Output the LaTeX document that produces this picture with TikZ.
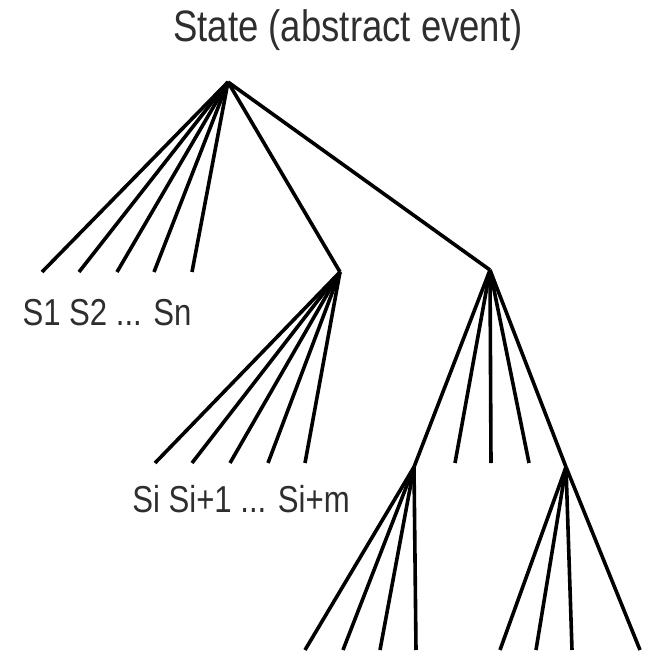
\documentclass[tikz,border=0pt]{standalone}
\usepackage{fontspec}
\setmainfont{Liberation Sans}
\newcommand{\narrowtxt}[1]{\scalebox{0.83}[1]{#1}}
\begin{document}
\begin{tikzpicture}[x=1pt,y=-1pt,
  edge/.style={line width=3.6pt, black},
  lbl/.style={inner sep=0pt, text=black!82, font=\fontsize{37.5}{37.5}\selectfont},
  ttl/.style={inner sep=0pt, text=black!82, font=\fontsize{44}{44}\selectfont}]
\useasboundingbox (0,0) rectangle (648,658);
% title
\node[ttl, anchor=base] (title) at (348,42) {\narrowtxt{State (abstract event)}};
% branch points
\coordinate (root) at (228,82);
\coordinate (A) at (340,272);
\coordinate (B) at (490,270);
\coordinate (C) at (414,467);
\coordinate (D) at (566,467);
% leaves of root
\coordinate (l1) at (42,272);
\coordinate (l2) at (79,272);
\coordinate (l3) at (117,272);
\coordinate (l4) at (154,272);
\coordinate (l5) at (192,272);
% leaves of A
\coordinate (a1) at (155,463);
\coordinate (a2) at (192,463);
\coordinate (a3) at (230,463);
\coordinate (a4) at (268,463);
\coordinate (a5) at (305,463);
% leaves of B
\coordinate (b1) at (455,463);
\coordinate (b2) at (491,463);
\coordinate (b3) at (529,463);
% leaves of C
\coordinate (c1) at (305,650);
\coordinate (c2) at (343,650);
\coordinate (c3) at (380,650);
\coordinate (c4) at (416,650);
% leaves of D
\coordinate (d1) at (500,650);
\coordinate (d2) at (536,650);
\coordinate (d3) at (572,650);
\coordinate (d4) at (640,650);
% edges
\foreach \t in {l1,l2,l3,l4,l5,A,B} \draw[edge] (root) -- (\t);
\foreach \t in {a1,a2,a3,a4,a5} \draw[edge] (A) -- (\t);
\foreach \t in {C,b1,b2,b3,D} \draw[edge] (B) -- (\t);
\foreach \t in {c1,c2,c3,c4} \draw[edge] (C) -- (\t);
\foreach \t in {d1,d2,d3,d4} \draw[edge] (D) -- (\t);
% labels
\node[lbl, anchor=base] (sn) at (107,325) {\narrowtxt{S1 S2 ... Sn}};
\node[lbl, anchor=base] (sm) at (241,512) {\narrowtxt{Si Si+1 ... Si+m}};
\end{tikzpicture}
\end{document}
